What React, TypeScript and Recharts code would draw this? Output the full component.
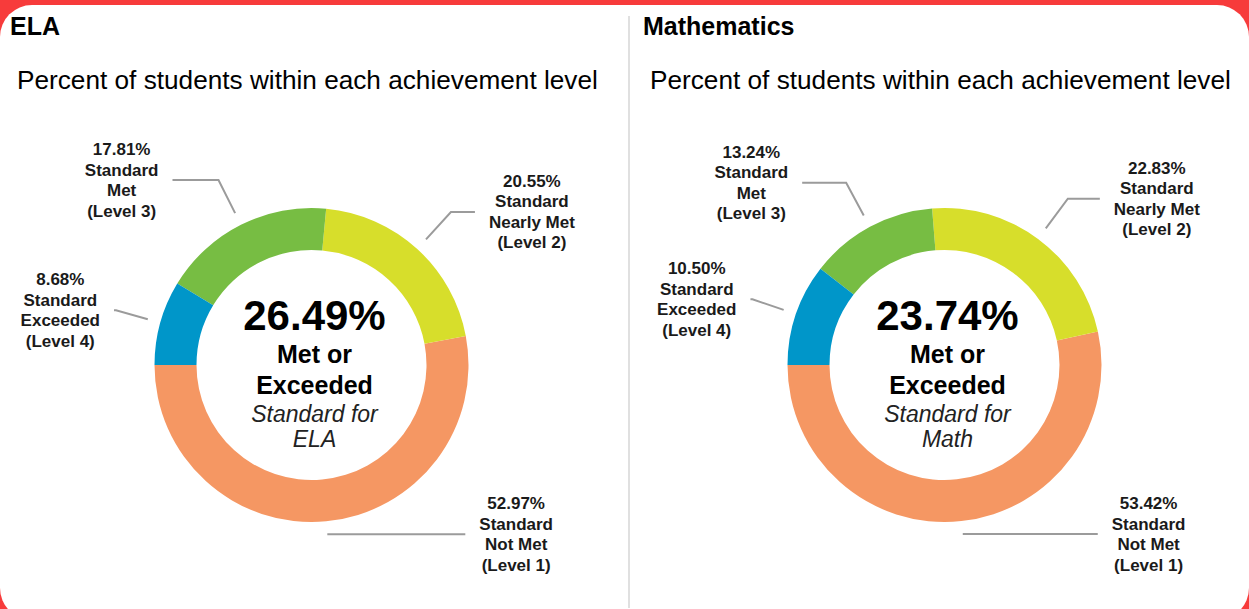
import React from "react";
import { PieChart, Pie, Cell, Label } from "recharts";

// ---------- data ----------
const levels = ["Not Met", "Nearly Met", "Met", "Exceeded"];
const levelTags = ["(Level 1)", "(Level 2)", "(Level 3)", "(Level 4)"];
const elaValues = [52.97, 20.55, 17.81, 8.68];
const mathValues = [53.42, 22.83, 13.24, 10.5];
const metOrExceeded = [26.49, 23.74];
const subjects = ["ELA", "Mathematics"];
const subjectShort = ["ELA", "Math"];
const subtitle = "Percent of students within each achievement level";

// ---------- styles / layout ----------
const COLORS = ["#F59763", "#D7DE2B", "#77BD43", "#0096C9"];
const FONT = "'Liberation Sans', Arial, Helvetica, sans-serif";
const LABEL_FONT_SIZE = 17;
const LABEL_FONT = `bold ${LABEL_FONT_SIZE}px 'Liberation Sans', Arial, sans-serif`;
const RED = "#F73B3B";
const elbowRadius = [170, 207, 207, 203];
const elaLeaderLen = [138, 24, 46, 2];
const mathLeaderLen = [135, 32, 44, 2];
const CX = [311.5, 944.5];
const CY = 365;
const INNER = 115;
const OUTER = 157;

const elaData = levels.map((name, i) => ({ name, value: elaValues[i] }));
const mathData = levels.map((name, i) => ({ name, value: mathValues[i] }));

let ctx: CanvasRenderingContext2D | null = null;
function textWidth(s: string, font: string): number {
  if (!ctx) ctx = document.createElement("canvas").getContext("2d");
  if (!ctx) return s.length * 9;
  ctx.font = font;
  return ctx.measureText(s).width;
}

const makeLabel = (leaderLen: number[]) => (props: any) => {
  const { cx, cy, midAngle, outerRadius, index, value } = props;
  const rad = Math.PI / 180;
  const cos = Math.cos(-midAngle * rad);
  const sin = Math.sin(-midAngle * rad);
  const r0 = outerRadius + 13;
  const r1 = elbowRadius[index];
  const x0 = cx + r0 * cos;
  const y0 = cy + r0 * sin;
  const x1 = cx + r1 * cos;
  const y1 = cy + r1 * sin;
  const dir = cos >= 0 ? 1 : -1;
  const x2 = x1 + dir * leaderLen[index];
  const lines = [
    `${Number(value).toFixed(2)}%`,
    "Standard",
    levels[index],
    levelTags[index],
  ];
  const maxW = Math.max(...lines.map((l) => textWidth(l, LABEL_FONT)));
  const tx = x2 + dir * (14 + maxW / 2);
  const ty = y1 - 25;
  return (
    <g>
      <polyline
        points={`${x0},${y0} ${x1},${y1} ${x2},${y1}`}
        fill="none"
        stroke="#9b9b9b"
        strokeWidth={2}
      />
      <text
        x={tx}
        y={ty}
        textAnchor="middle"
        fontFamily={FONT}
        fontSize={LABEL_FONT_SIZE}
        fontWeight="bold"
        fill="#1a1a1a"
      >
        {lines.map((l, i) => (
          <tspan key={i} x={tx} y={ty + i * 20.5}>
            {l}
          </tspan>
        ))}
      </text>
    </g>
  );
};

const makeCenter = (k: number) => (props: any) => {
  const vb = props.viewBox || {};
  const cx = (vb.cx ?? CX[k]) + 3;
  const cy = vb.cy ?? CY;
  return (
    <g fontFamily={FONT} fill="#000" textAnchor="middle">
      <text x={cx} y={cy - 35} fontSize={42} fontWeight="bold" textAnchor="middle">
        {`${metOrExceeded[k].toFixed(2)}%`}
      </text>
      <text x={cx} y={cy - 2} fontSize={25} fontWeight="bold" textAnchor="middle">
        Met or
      </text>
      <text x={cx} y={cy + 29} fontSize={25} fontWeight="bold" textAnchor="middle">
        Exceeded
      </text>
      <text x={cx} y={cy + 57} fontSize={23} fontStyle="italic" fill="#222" textAnchor="middle">
        Standard for
      </text>
      <text x={cx} y={cy + 82} fontSize={23} fontStyle="italic" fill="#222" textAnchor="middle">
        {subjectShort[k]}
      </text>
    </g>
  );
};

export default function App() {
  return (
    <div
      style={{
        position: "fixed",
        left: 0,
        top: 0,
        width: 1249,
        height: 609,
        background: RED,
        overflow: "hidden",
        fontFamily: FONT,
      }}
    >
      <div
        style={{
          position: "absolute",
          left: 0,
          top: 5,
          width: 1249,
          height: 615,
          background: "#fff",
          borderRadius: 32,
        }}
      />
      <div
        style={{
          position: "absolute",
          left: 628,
          top: 16,
          width: 2,
          height: 592,
          background: "#e0e0e0",
        }}
      />
      {[0, 1].map((k) => (
        <React.Fragment key={k}>
          <div
            style={{
              position: "absolute",
              left: k === 0 ? 10 : 643,
              top: 14,
              fontSize: 25,
              lineHeight: "25px",
              fontWeight: "bold",
              color: "#000",
              whiteSpace: "nowrap",
            }}
          >
            {subjects[k]}
          </div>
          <div
            style={{
              position: "absolute",
              left: k === 0 ? 17 : 650,
              top: 67,
              fontSize: 26.2,
              lineHeight: "26px",
              color: "#000",
              whiteSpace: "nowrap",
            }}
          >
            {subtitle}
          </div>
        </React.Fragment>
      ))}
      <div style={{ position: "absolute", left: 0, top: 0 }}>
        <PieChart width={1249} height={609} margin={{ top: 0, right: 0, bottom: 0, left: 0 }}>
          <Pie
            data={elaData}
            dataKey="value"
            nameKey="name"
            cx={CX[0]}
            cy={CY}
            innerRadius={INNER}
            outerRadius={OUTER}
            startAngle={180}
            endAngle={540}
            stroke="none"
            isAnimationActive={false}
            label={makeLabel(elaLeaderLen)}
            labelLine={false}
          >
            {elaData.map((_, i) => (
              <Cell key={i} fill={COLORS[i]} />
            ))}
            <Label position="center" content={makeCenter(0)} />
          </Pie>
          <Pie
            data={mathData}
            dataKey="value"
            nameKey="name"
            cx={CX[1]}
            cy={CY}
            innerRadius={INNER}
            outerRadius={OUTER}
            startAngle={180}
            endAngle={540}
            stroke="none"
            isAnimationActive={false}
            label={makeLabel(mathLeaderLen)}
            labelLine={false}
          >
            {mathData.map((_, i) => (
              <Cell key={i} fill={COLORS[i]} />
            ))}
            <Label position="center" content={makeCenter(1)} />
          </Pie>
        </PieChart>
      </div>
    </div>
  );
}
